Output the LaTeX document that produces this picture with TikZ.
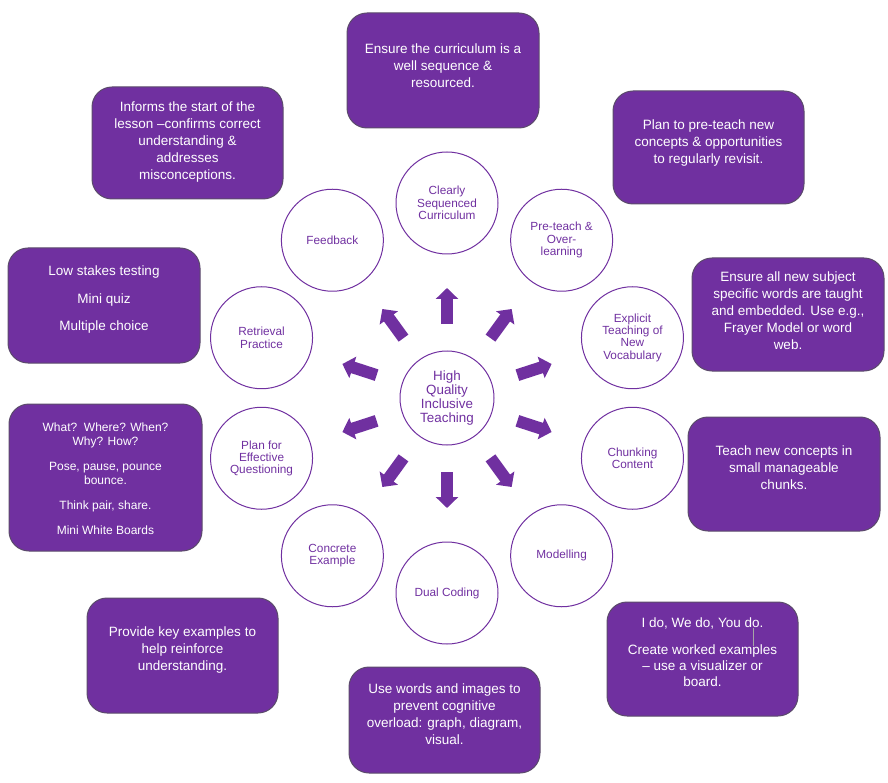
\documentclass[tikz,border=0pt]{standalone}
\usepackage{fontspec}
\setmainfont{Liberation Sans}
\usetikzlibrary{arrows.meta,calc}
\definecolor{hqpurple}{HTML}{7030A0}
\definecolor{boxedge}{HTML}{5B4B6B}
\begin{document}
\begin{tikzpicture}[x=1pt,y=-1pt,
  infobox/.style={draw=boxedge, line width=1pt, fill=hqpurple, rounded corners=20pt, inner sep=0pt},
  boxtext/.style={text=white, align=center, font=\fontsize{13.5}{17}\selectfont, inner sep=0pt},
  topic/.style={circle, draw=hqpurple, line width=1pt, minimum size=102pt, inner sep=0pt, text=hqpurple, align=center, font=\fontsize{11.8}{12.3}\selectfont},
  spoke/.style={draw=hqpurple, line width=12pt, -{Triangle[length=11pt,width=22pt]}}
]
\useasboundingbox (0,0) rectangle (888,783);
\coordinate (c) at (447,398);
\node[topic, minimum size=94pt, font=\fontsize{13.4}{13.7}\selectfont] (hub) at (c) {High\\Quality\\Inclusive\\Teaching};

% spokes
\foreach \a [count=\i] in {90,54,18,-18,-54,-90,-126,-162,162,126} {
  \coordinate (s\i) at ($(c)+({-\a}:74)$);
  \coordinate (e\i) at ($(c)+({-\a}:110)$);
  \draw[spoke] (s\i) -- (e\i);
}

% topic circles
\node[topic] (t1) at ($(c)+(-90:195)$) {Clearly\\Sequenced\\Curriculum};
\node[topic] (t2) at ($(c)+(-54:195)$) {Pre-teach \&\\Over-\\learning};
\node[topic] (t3) at ($(c)+(-18:195)$) {Explicit\\Teaching of\\New\\Vocabulary};
\node[topic] (t4) at ($(c)+(18:195)$) {Chunking\\Content};
\node[topic] (t5) at ($(c)+(54:195)$) {Modelling};
\node[topic] (t6) at ($(c)+(90:195)$) {Dual Coding};
\node[topic] (t7) at ($(c)+(126:195)$) {Concrete\\Example};
\node[topic] (t8) at ($(c)+(162:195)$) {Plan for\\Effective\\Questioning};
\node[topic] (t9) at ($(c)+(198:195)$) {Retrieval\\Practice};
\node[topic] (t10) at ($(c)+(234:195)$) {Feedback};

% info boxes
\node[infobox, minimum width=192pt, minimum height=115pt] (b1) at (443,70.5) {};
\node[boxtext] (x1) at (443,66) {Ensure the curriculum is a\\well sequence \&\\resourced.};

\node[infobox, minimum width=191pt, minimum height=112pt] (b2) at (187.5,143) {};
\node[boxtext] (x2) at (187.5,142) {Informs the start of the\\lesson –confirms correct\\understanding \&\\addresses\\misconceptions.};

\node[infobox, minimum width=191pt, minimum height=113pt] (b3) at (708.5,147.5) {};
\node[boxtext] (x3) at (708.5,143) {Plan to pre-teach new\\concepts \& opportunities\\to regularly revisit.};

\node[infobox, minimum width=192pt, minimum height=115pt] (b4) at (104,305.5) {};
\node[boxtext] (x4) at (104,300) {Low stakes testing\\[10.5pt]Mini quiz\\[10.5pt]Multiple choice};

\node[infobox, minimum width=192pt, minimum height=113pt] (b5) at (788,314.5) {};
\node[boxtext] (x5) at (788,310.5) {Ensure all new subject\\specific words are taught\\and embedded. Use e.g.,\\Frayer Model or word\\web.};

\node[infobox, minimum width=193pt, minimum height=147pt] (b6) at (105.5,477.5) {};
\node[boxtext, font=\fontsize{12}{14}\selectfont] (x6) at (105.5,478.5) {What?\ \ Where? When?\\Why? How?\\[11pt]Pose, pause, pounce\\bounce.\\[11pt]Think pair, share.\\[11pt]Mini White Boards};

\node[infobox, minimum width=192pt, minimum height=114pt] (b7) at (784,474) {};
\node[boxtext] (x7) at (784,468) {Teach new concepts in\\small manageable\\chunks.};

\node[infobox, minimum width=191pt, minimum height=115pt] (b8) at (182.5,655.5) {};
\node[boxtext] (x8) at (182.5,650.5) {Provide key examples to\\help reinforce\\understanding.};

\node[infobox, minimum width=191pt, minimum height=114pt] (b9) at (702.5,659) {};
\node[boxtext, font=\fontsize{13.5}{16}\selectfont] (x9) at (702.5,652) {I do, We do, You do.\\[11pt]Create worked examples\\– use a visualizer or\\board.};
\coordinate (m1) at (753,628);
\coordinate (m2) at (753,646);
\draw[gray!70, line width=0.8pt] (m1) -- (m2);

\node[infobox, minimum width=191pt, minimum height=106pt] (b10) at (444.5,720) {};
\node[boxtext] (x10) at (444.5,714) {Use words and images to\\prevent cognitive\\overload: graph, diagram,\\visual.};
\end{tikzpicture}
\end{document}
